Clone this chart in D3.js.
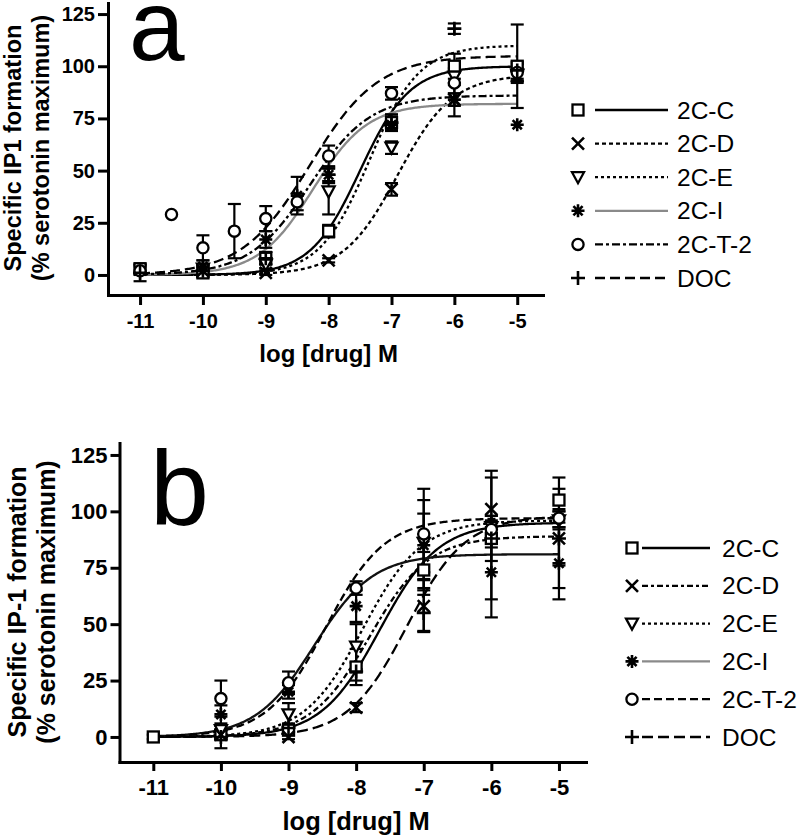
<!DOCTYPE html>
<html><head><meta charset="utf-8">
<script src="https://cdn.jsdelivr.net/npm/d3@7"></script>
<style>
body{margin:0;background:#fff}
svg{display:block}
text{font-family:"Liberation Sans",Arial,Helvetica,sans-serif}
</style>
</head><body>
<svg id="chart" width="800" height="835"></svg>
<script>
// ---------------- DATA ----------------
const compounds = ["2C-C", "2C-D", "2C-E", "2C-I", "2C-T-2", "DOC"];
const markerTypes = ["square", "cross", "triDown", "asterisk", "circle", "plus"];
const xTicks = [-11, -10, -9, -8, -7, -6, -5];
const yTicks = [0, 25, 50, 75, 100, 125];
const xTitle = "log [drug] M";
const aYTitle = ["Specific IP1 formation", "(% serotonin maximum)"];
const bYTitle = ["Specific IP-1 formation", "(% serotonin maximum)"];

// panel a: [log dose, mean, sem]
const a_2CC  = [[-11,3,2],[-10,1,2],[-9,8,3],[-8,21,3],[-7,73,4],[-6,100,6],[-5,100,20]];
const a_2CD  = [[-10,2,2],[-9,1,1],[-8,7,1],[-7,41,3],[-6,84,3],[-5,95,3]];
const a_2CE  = [[-10,3,2],[-9,5,2],[-8,40,11],[-7,61,3],[-6,95,4],[-5,96,3]];
const a_2CI  = [[-10,4,3],[-9,17,4],[-8.5,38,9],[-8,48,4],[-7,72,3],[-6,84,8],[-5,72,0]];
const a_2CT2 = [[-11,2,2],[-10.5,29,0],[-10,13,6],[-9.5,21,13],[-9,27,6],[-8.5,35,4],[-8,57,5],[-7,87,3],[-6,92,5],[-5,97,4]];
const a_DOC  = [[-11,1,4],[-10,2,3],[-9,8,3],[-8,48,3],[-7,73,3],[-6,118,2.5],[-5,98,4]];
// panel a fitted curves
const aTop     = [100, 96, 110, 82, 86, 105];
const aLogEC50 = [-7.5, -6.9, -7.35, -8.25, -8.3, -8.3];
const aHill    = [1.1, 1.0, 1.1, 1.0, 0.9, 0.8];

// panel b: [log dose, mean, sem]
const b_2CC  = [[-11,0,1],[-10,1,2],[-9,3,2],[-8,31,8],[-7,74,8],[-6,88,10],[-5,105,10]];
const b_2CD  = [[-10,1,2],[-9,0,1],[-8,13,2],[-7,58,11.5],[-6,101,17],[-5,88,22]];
const b_2CE  = [[-10,3,2],[-9,10,5],[-8,40,10],[-7,86,13],[-6,93,5],[-5,96,4]];
const b_2CI  = [[-10,10,4],[-9,20,3],[-8,58,7],[-7,85,20],[-6,73,20],[-5,77,16]];
const b_2CT2 = [[-10,17,8],[-9,24,5],[-8,66,3],[-7,90,20],[-6,92,4],[-5,97,4]];
const b_DOC  = [[-10,0,5],[-9,4,2],[-8,29,4],[-7,55,8],[-6,88,27],[-5,88,12]];
// panel b fitted curves
const bTop     = [95, 89, 96, 81, 97, 98];
const bLogEC50 = [-7.65, -7.8, -7.9, -8.62, -8.45, -7.25];
const bHill    = [1, 1, 1, 1, 1, 1];

// ---------------- DRAWING ----------------
const svg = d3.select("#chart");
const FONT = '"Liberation Sans",Arial,Helvetica,sans-serif';

function logistic(x, top, ec, h) { return top / (1 + Math.pow(10, (ec - x) * h)); }

function drawMarker(g, type, cx, cy) {
  const m = g.append("g").attr("transform", `translate(${cx},${cy})`);
  const sw = 2.3;
  if (type === "square") {
    m.append("rect").attr("x", -5.5).attr("y", -5.5).attr("width", 11).attr("height", 11)
      .attr("fill", "#fff").attr("stroke", "#000").attr("stroke-width", sw);
  } else if (type === "circle") {
    m.append("circle").attr("r", 5.6).attr("fill", "#fff").attr("stroke", "#000").attr("stroke-width", sw);
  } else if (type === "triDown") {
    m.append("path").attr("d", "M-6,-5L6,-5L0,6Z").attr("fill", "#fff")
      .attr("stroke", "#000").attr("stroke-width", sw).attr("stroke-linejoin", "miter");
  } else if (type === "cross") {
    m.append("path").attr("d", "M-6,-6L6,6M-6,6L6,-6").attr("stroke", "#000").attr("stroke-width", 2.6);
  } else if (type === "plus") {
    m.append("path").attr("d", "M-7,0H7M0,-7V7").attr("stroke", "#000").attr("stroke-width", 2.6);
  } else if (type === "asterisk") {
    m.append("path").attr("d", "M-6.5,0H6.5M0,-6.5V6.5M-4.6,-4.6L4.6,4.6M-4.6,4.6L4.6,-4.6")
      .attr("stroke", "#000").attr("stroke-width", 2.6);
  }
}

function drawPanel(P) {
  const g = svg.append("g");
  const x = d3.scaleLinear().domain(P.xDomain).range(P.xRange);
  const y = d3.scaleLinear().domain(P.yDomain).range(P.yRange);

  // curves
  const xs = d3.range(-11, -4.999, 0.02);
  const line = d3.line().x(d => x(d[0])).y(d => y(d[1]));
  compounds.forEach((c, i) => {
    const pts = xs.map(v => [v, logistic(v, P.top[i], P.ec[i], P.hill[i])]);
    g.append("path").attr("d", line(pts)).attr("fill", "none")
      .attr("stroke", P.curveColors[i]).attr("stroke-width", 2.3)
      .attr("stroke-dasharray", P.dashes[i]);
  });

  // error bars
  P.series.forEach(s => {
    s.forEach(([lx, m, e]) => {
      if (!e) return;
      const px = x(lx);
      const eb = g.append("g").attr("stroke", "#000").attr("stroke-width", 2.2);
      eb.append("line").attr("x1", px).attr("x2", px).attr("y1", y(m - e)).attr("y2", y(m + e));
      eb.append("line").attr("x1", px - 6.5).attr("x2", px + 6.5).attr("y1", y(m + e)).attr("y2", y(m + e));
      eb.append("line").attr("x1", px - 6.5).attr("x2", px + 6.5).attr("y1", y(m - e)).attr("y2", y(m - e));
    });
  });

  // markers
  P.series.forEach((s, i) => {
    s.forEach(([lx, m]) => drawMarker(g, markerTypes[i], x(lx), y(m)));
  });

  // axes
  const xa = d3.axisBottom(x).tickValues(xTicks).tickFormat(d => String(d))
    .tickSize(P.tickLen).tickSizeOuter(0).tickPadding(P.xPad);
  const gx = g.append("g").attr("transform", `translate(0,${P.yRange[0]})`).call(xa);
  const ya = d3.axisLeft(y).tickValues(yTicks).tickFormat(d => String(d))
    .tickSize(P.tickLen).tickSizeOuter(0).tickPadding(P.yPad);
  const gy = g.append("g").attr("transform", `translate(${P.xRange[0]},0)`).call(ya);
  [gx, gy].forEach(ax => {
    ax.attr("font-family", FONT).attr("font-size", P.tickFont).attr("font-weight", "bold");
    ax.select(".domain").attr("stroke-width", 3).attr("stroke-linecap", "square");
    ax.selectAll(".tick line").attr("stroke-width", 3);
    ax.selectAll(".tick text").attr("fill", "#000");
  });

  // axis titles
  g.append("text").attr("x", (x(-11) + x(-5)) / 2).attr("y", P.xTitleY)
    .attr("text-anchor", "middle").attr("font-size", P.titleFont).attr("font-weight", "bold")
    .text(xTitle);
  P.yTitle.forEach((t, k) => {
    g.append("text").attr("transform", `translate(${P.yTitleX[k]},${P.yTitleCenter}) rotate(-90)`)
      .attr("text-anchor", "middle").attr("font-size", P.yTitleFont).attr("font-weight", "bold")
      .text(t);
  });

  // panel letter
  g.append("text").attr("x", P.letterX).attr("y", P.letterY)
    .attr("font-size", P.letterSize).text(P.letter);

  // legend
  compounds.forEach((c, i) => {
    const ly = P.legY0 + i * P.legDy;
    g.append("line").attr("x1", P.legLine[0]).attr("x2", P.legLine[1]).attr("y1", ly).attr("y2", ly)
      .attr("stroke", P.legendColors[i]).attr("stroke-width", 2.3)
      .attr("stroke-dasharray", P.legDashes[i]);
    drawMarker(g, markerTypes[i], P.legMarkerX, ly);
    g.append("text").attr("x", P.legTextX).attr("y", ly + 8.6)
      .attr("font-size", P.legFont).text(c);
  });
}

drawPanel({
  letter: "a", letterX: 129, letterY: 60, letterSize: 100,
  xDomain: [-11.51, -4.59], xRange: [108, 543],
  yDomain: [-9.6, 130.3], yRange: [295, 3],
  tickLen: 10, xPad: 9, yPad: 3, tickFont: 20, titleFont: 24, yTitleFont: 23.5,
  xTitleY: 362, yTitle: aYTitle, yTitleX: [21, 49], yTitleCenter: 148,
  series: [a_2CC, a_2CD, a_2CE, a_2CI, a_2CT2, a_DOC],
  top: aTop, ec: aLogEC50, hill: aHill,
  curveColors: ["#000", "#000", "#000", "#8a8a8a", "#000", "#000"],
  legendColors: ["#000", "#000", "#000", "#8a8a8a", "#000", "#000"],
  dashes: [null, "4,3", "3,3", null, "8,3,3,3", "10,5"],
  legDashes: [null, "4,3", "3,3", null, "8,3,3,3", "10,5"],
  legMarkerX: 578, legLine: [595, 668], legTextX: 677, legY0: 110, legDy: 33.6, legFont: 24.5
});

drawPanel({
  letter: "b", letterX: 150, letterY: 525, letterSize: 106,
  xDomain: [-11.5, -4.6], xRange: [119.5, 586],
  yDomain: [-11.1, 130.3], yRange: [762, 443],
  tickLen: 9, xPad: 8, yPad: 3, tickFont: 22, titleFont: 25.5, yTitleFont: 25,
  xTitleY: 830, yTitle: bYTitle, yTitleX: [26, 55], yTitleCenter: 602,
  series: [b_2CC, b_2CD, b_2CE, b_2CI, b_2CT2, b_DOC],
  top: bTop, ec: bLogEC50, hill: bHill,
  curveColors: ["#000", "#000", "#000", "#111", "#000", "#000"],
  legendColors: ["#000", "#000", "#000", "#8a8a8a", "#000", "#000"],
  dashes: [null, "6,3,3,3", "3,3", null, "8,4", "11,5"],
  legDashes: [null, "6,3,3,3", "3,3", null, "8,4", "11,5"],
  legMarkerX: 632, legLine: [642, 710], legTextX: 722, legY0: 548, legDy: 37.8, legFont: 24.5
});
</script>
</body></html>
